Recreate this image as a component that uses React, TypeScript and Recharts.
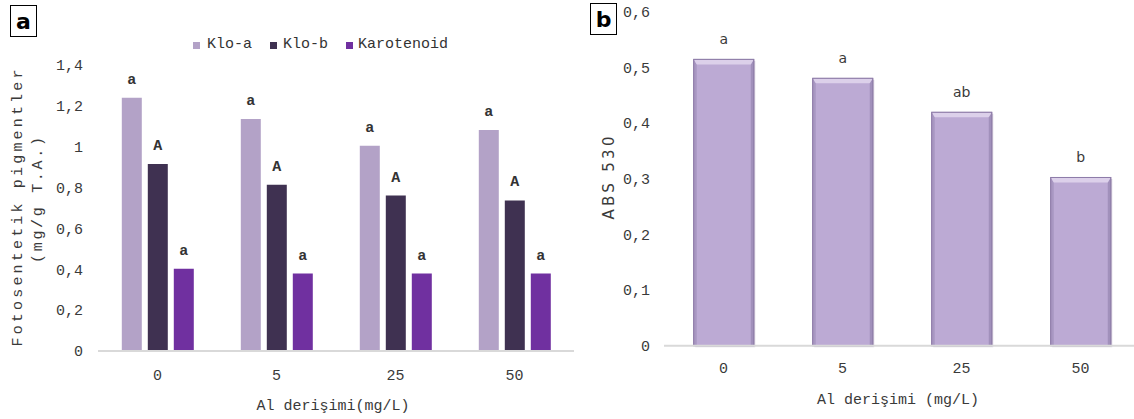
import React from "react";
import { BarChart, Bar, XAxis, YAxis, Legend, LabelList } from "recharts";

// Panel a — photosynthetic pigments
const doses = ["0", "5", "25", "50"];
const kloA = [1.24, 1.136, 1.005, 1.082];
const kloB = [0.915, 0.814, 0.761, 0.737];
const karotenoid = [0.403, 0.379, 0.379, 0.379];
const kloASig = ["a", "a", "a", "a"];
const kloBSig = ["A", "A", "A", "A"];
const karSig = ["a", "a", "a", "a"];
const ticksA = [0, 0.2, 0.4, 0.6, 0.8, 1, 1.2, 1.4];

// Panel b — ABS 530
const abs530 = [0.514, 0.48, 0.419, 0.302];
const absSig = ["a", "a", "ab", "b"];
const ticksB = [0, 0.1, 0.2, 0.3, 0.4, 0.5, 0.6];

const dataA = doses.map((d, i) => ({
    dose: d,
    kloA: kloA[i],
    kloB: kloB[i],
    kar: karotenoid[i],
    sA: kloASig[i],
    sB: kloBSig[i],
    sK: karSig[i],
}));
const dataB = doses.map((d, i) => ({ dose: d, abs: abs530[i], sig: absSig[i] }));

const MONO = "'Liberation Mono', 'Courier New', monospace";
const SANS = "'DejaVu Sans', Verdana, sans-serif";
const TXT = "#3a3a3a";

const comma = (v: number) => String(v).replace(".", ",");

const legendItems = [
    { name: "Klo-a", color: "#b3a2c7", sq: 193, tx: 207 },
    { name: "Klo-b", color: "#3f3151", sq: 270, tx: 283 },
    { name: "Karotenoid", color: "#7030a0", sq: 346, tx: 358 },
];

function LegendA() {
    return (
        <div style={{ position: "relative", height: 20 }}>
            {legendItems.map((it) => (
                <React.Fragment key={it.name}>
                    <span style={{ position: "absolute", left: it.sq, top: 6, width: 7, height: 7, background: it.color }} />
                    <span style={{ position: "absolute", left: it.tx, top: 0, font: `15px ${MONO}`, color: "#333", lineHeight: "18px" }}>
                        {it.name}
                    </span>
                </React.Fragment>
            ))}
        </div>
    );
}

function RotTitle({ cx, cy, len, text, font, size }: { cx: number; cy: number; len: number; text: string; font: string; size: number }) {
    return (
        <text
            x={cx}
            y={cy}
            transform={`rotate(-90 ${cx} ${cy})`}
            textAnchor="middle"
            dominantBaseline="central"
            textLength={len}
            lengthAdjust="spacing"
            fill={TXT}
            style={{ fontFamily: font, fontSize: size }}
        >
            {text}
        </text>
    );
}

function BevelBar(props: any) {
    const { x, y, width, height } = props;
    if (!height || height <= 0) return null;
    const b = 5;
    const s = 3;
    return (
        <g>
            <rect x={x + 1.5} y={y + 1.5} width={width} height={height} fill="#a89cb8" opacity={0.45} />
            <rect x={x} y={y} width={width} height={height} fill="#bcaad4" stroke="#8e7ca8" strokeWidth={1} />
            <polygon points={`${x},${y} ${x + s},${y + b} ${x + s},${y + height} ${x},${y + height}`} fill="#a897c2" />
            <polygon
                points={`${x + width},${y} ${x + width - s},${y + b} ${x + width - s},${y + height} ${x + width},${y + height}`}
                fill="#a190bb"
            />
            <polygon points={`${x},${y} ${x + width},${y} ${x + width - s},${y + b} ${x + s},${y + b}`} fill="#dcd0ea" />
            <rect x={x} y={y} width={width} height={height} fill="none" stroke="#8e7ca8" strokeWidth={1} />
        </g>
    );
}

const boxStyle: React.CSSProperties = {
    position: "absolute",
    border: "1.5px solid #000",
    background: "#fff",
    font: `bold 22px ${SANS}`,
    color: "#000",
    display: "flex",
    alignItems: "center",
    justifyContent: "center",
    boxSizing: "border-box",
};

export default function App() {
    const tickA = { fill: TXT, fontSize: 15, fontFamily: MONO };
    const sigStyle = { fill: "#333", fontFamily: MONO, fontSize: 15, fontWeight: 700 };
    return (
        <div style={{ position: "fixed", left: 0, top: 0, width: 1134, height: 419, overflow: "hidden", background: "#fff" }}>
            <div style={{ position: "absolute", left: 0, top: 0 }}>
                <BarChart
                    width={600}
                    height={419}
                    data={dataA}
                    margin={{ top: 65, right: 26, bottom: 38, left: 68 }}
                    barCategoryGap="20%"
                    barGap={6}
                >
                    <XAxis
                        dataKey="dose"
                        height={30}
                        axisLine={{ stroke: "#d9d9d9", strokeWidth: 2 }}
                        tickLine={false}
                        tickSize={0}
                        tickMargin={18}
                        tick={tickA}
                        label={{
                            content: () => (
                                <text x={333} y={406} textAnchor="middle" dominantBaseline="central" fill={TXT} style={{ fontFamily: MONO, fontSize: 15 }}>
                                    Al derişimi(mg/L)
                                </text>
                            ),
                        }}
                    />
                    <YAxis
                        width={30}
                        domain={[0, 1.4]}
                        ticks={ticksA}
                        axisLine={false}
                        tickLine={false}
                        tickSize={0}
                        tickMargin={15}
                        tick={tickA}
                        tickFormatter={comma}
                        label={{
                            content: () => (
                                <g>
                                    <RotTitle cx={18} cy={208} len={277} text="Fotosentetik pigmentler" font={MONO} size={15} />
                                    <RotTitle cx={38} cy={200} len={126} text="(mg/g T.A.)" font={MONO} size={15} />
                                </g>
                            ),
                        }}
                    />
                    <Legend
                        layout="horizontal"
                        verticalAlign="middle"
                        align="center"
                        content={() => <LegendA />}
                        wrapperStyle={{ position: "absolute", left: 0, top: 36, width: 600 }}
                    />
                    <Bar dataKey="kloA" name="Klo-a" fill="#b3a2c7" isAnimationActive={false}>
                        <LabelList dataKey="sA" position="top" offset={14} style={sigStyle} />
                    </Bar>
                    <Bar dataKey="kloB" name="Klo-b" fill="#3f3151" isAnimationActive={false}>
                        <LabelList dataKey="sB" position="top" offset={14} style={sigStyle} />
                    </Bar>
                    <Bar dataKey="kar" name="Karotenoid" fill="#7030a0" isAnimationActive={false}>
                        <LabelList dataKey="sK" position="top" offset={14} style={sigStyle} />
                    </Bar>
                </BarChart>
            </div>
            <div style={{ position: "absolute", left: 580, top: 0 }}>
                <BarChart
                    width={560}
                    height={419}
                    data={dataB}
                    margin={{ top: 11.5, right: 0, bottom: 43.3, left: 54 }}
                    barCategoryGap="25%"
                >
                    <XAxis
                        dataKey="dose"
                        height={30}
                        axisLine={{ stroke: "#d9d9d9", strokeWidth: 2 }}
                        tickLine={false}
                        tickSize={0}
                        tickMargin={17}
                        tick={tickA}
                        label={{
                            content: () => (
                                <text x={318} y={400} textAnchor="middle" dominantBaseline="central" fill={TXT} style={{ fontFamily: MONO, fontSize: 15 }}>
                                    Al derişimi (mg/L)
                                </text>
                            ),
                        }}
                    />
                    <YAxis
                        width={30}
                        domain={[0, 0.6]}
                        ticks={ticksB}
                        axisLine={false}
                        tickLine={false}
                        tickSize={0}
                        tickMargin={14}
                        tick={tickA}
                        tickFormatter={comma}
                        label={{
                            content: () => <RotTitle cx={29} cy={178} len={83} text="ABS 530" font={SANS} size={15} />,
                        }}
                    />
                    <Bar dataKey="abs" shape={<BevelBar />} isAnimationActive={false}>
                        <LabelList dataKey="sig" position="top" offset={15} style={{ fill: TXT, fontFamily: SANS, fontSize: 14 }} />
                    </Bar>
                </BarChart>
            </div>
            <div style={{ ...boxStyle, left: 10, top: 5, width: 27, height: 32 }}>a</div>
            <div style={{ ...boxStyle, left: 590, top: 3, width: 27, height: 32 }}>b</div>
        </div>
    );
}
